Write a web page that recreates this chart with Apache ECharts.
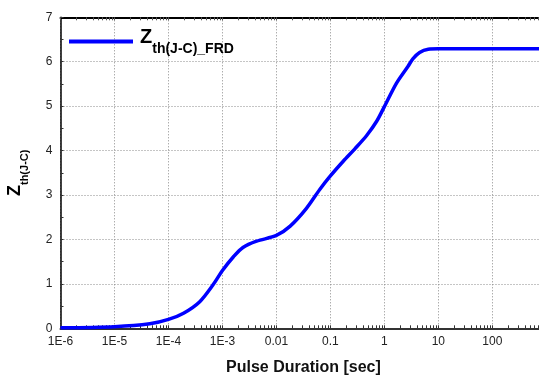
<!DOCTYPE html>
<html>
<head>
<meta charset="utf-8">
<script src="https://cdn.jsdelivr.net/npm/echarts@6/dist/echarts.min.js"></script>
<style>
  html, body { margin: 0; padding: 0; background: #fff; }
  #chart { width: 539px; height: 377px; }
</style>
</head>
<body>
<div id="chart"></div>
<script>
// Transient thermal impedance, junction to case, of the FRD (K/W) vs pulse duration (s)
const pulseDuration = [1e-6, 1e-5, 4.5e-5, 1e-4, 1.9e-4, 3.8e-4, 6.8e-4, 1e-3, 1.6e-3,
  2.4e-3, 4.3e-3, 0.01, 0.018, 0.036, 0.064, 0.1, 0.173, 0.284, 0.47, 0.72, 1,
  1.68, 2.75, 3.4, 4.5, 6.5, 10, 100, 1000];
const zthFRD = [0.01, 0.035, 0.10, 0.20, 0.34, 0.60, 0.99, 1.30, 1.61,
  1.82, 1.96, 2.09, 2.30, 2.70, 3.13, 3.43, 3.76, 4.04, 4.34, 4.66, 4.99,
  5.52, 5.90, 6.07, 6.21, 6.28, 6.29, 6.29, 6.29];

const xTickLabels = { 1e-6: '1E-6', 1e-5: '1E-5', 1e-4: '1E-4', 1e-3: '1E-3',
  0.01: '0.01', 0.1: '0.1', 1: '1', 10: '10', 100: '100' };
const yTicks = [0, 1, 2, 3, 4, 5, 6, 7];

// log-style minor ticks (1..9 within each decade)
const logMinorTicks = [];
for (let e = -6; e < 3; e++) {
  for (let m = 1; m <= 9; m++) logMinorTicks.push(Number((m * Math.pow(10, e)).toPrecision(3)));
}
logMinorTicks.push(1000);

const FONT = 'Liberation Sans, Arial, sans-serif';
const chart = echarts.init(document.getElementById('chart'), null, { renderer: 'canvas' });

const gridStyle = { show: true, lineStyle: { color: '#8a8a8a', width: 1, type: [1, 2] } };
const X_MIN = 1e-6, X_MAX = 1000;

chart.setOption({
  animation: false,
  backgroundColor: '#fff',
  // the plot runs on past the right edge of the page, up to 1000 s
  grid: { left: 60.5, top: 17.3, bottom: 48.7, width: 485.8, containLabel: false, outerBoundsMode: 'none' },
  legend: {
    left: 69, top: 27, padding: 0,
    icon: 'rect', itemWidth: 64, itemHeight: 4, itemGap: 0,
    data: ['Zth'],
    formatter: () => '{z|Z}{s|th(J-C)_FRD}',
    textStyle: {
      padding: [0, 0, 0, 2],
      rich: {
        z: { fontFamily: FONT, fontWeight: 'bold', fontSize: 20, color: '#000', padding: [0, 0, 9, 0], verticalAlign: 'bottom' },
        s: { fontFamily: FONT, fontWeight: 'bold', fontSize: 14, color: '#000', verticalAlign: 'bottom' }
      }
    }
  },
  xAxis: [{
    type: 'log', min: X_MIN, max: X_MAX, logBase: 10, position: 'bottom',
    name: 'Pulse Duration [sec]', nameLocation: 'middle', nameGap: 31,
    nameTextStyle: { fontFamily: FONT, fontWeight: 'bold', fontSize: 16, color: '#111' },
    axisLine: { show: true, lineStyle: { color: '#333', width: 2 } },
    axisTick: { show: true, inside: true, length: 3, customValues: logMinorTicks, lineStyle: { color: '#333' } },
    axisLabel: {
      fontFamily: FONT, fontSize: 12, color: '#222', margin: 7,
      customValues: Object.keys(xTickLabels).map(Number),
      formatter: v => xTickLabels[v] !== undefined ? xTickLabels[v] : ''
    },
    splitLine: { show: false }
  }, {
    type: 'log', min: X_MIN, max: X_MAX, logBase: 10, position: 'top',
    axisLine: { show: true, lineStyle: { color: '#000', width: 2 } },
    axisTick: { show: true, inside: true, length: 3, customValues: logMinorTicks, lineStyle: { color: '#555' } },
    axisLabel: { show: false },
    splitLine: { show: false }
  }, {
    // decade grid lines
    type: 'log', min: X_MIN, max: X_MAX, logBase: 10, position: 'bottom',
    axisLine: { show: false }, axisTick: { show: false }, axisLabel: { show: false },
    splitLine: gridStyle
  }],
  yAxis: {
    type: 'value', min: yTicks[0], max: yTicks[yTicks.length - 1], interval: 1,
    name: '{z|Z}{s|th(J-C)}', nameLocation: 'middle', nameGap: 30, nameRotate: 90,
    nameTextStyle: {
      rich: {
        z: { fontFamily: FONT, fontWeight: 'bold', fontSize: 18, color: '#000', padding: [0, 0, 6, 0], verticalAlign: 'bottom' },
        s: { fontFamily: FONT, fontWeight: 'bold', fontSize: 11, color: '#000', verticalAlign: 'bottom' }
      }
    },
    axisLine: { show: true, lineStyle: { color: '#000', width: 1.5 } },
    axisTick: { show: true, inside: true, length: 3, lineStyle: { color: '#333' } },
    minorTick: { show: true, splitNumber: 2, length: 3, lineStyle: { color: '#333' } },
    axisLabel: { fontFamily: FONT, fontSize: 12, color: '#222', margin: 8 },
    splitLine: gridStyle
  },
  series: [{
    name: 'Zth', type: 'line', xAxisIndex: 0,
    data: pulseDuration.map((t, i) => [t, zthFRD[i]]),
    showSymbol: false, smooth: 0.3,
    lineStyle: { color: '#0000ff', width: 3.5 },
    itemStyle: { color: '#0000ff' }
  }]
});
</script>
</body>
</html>
